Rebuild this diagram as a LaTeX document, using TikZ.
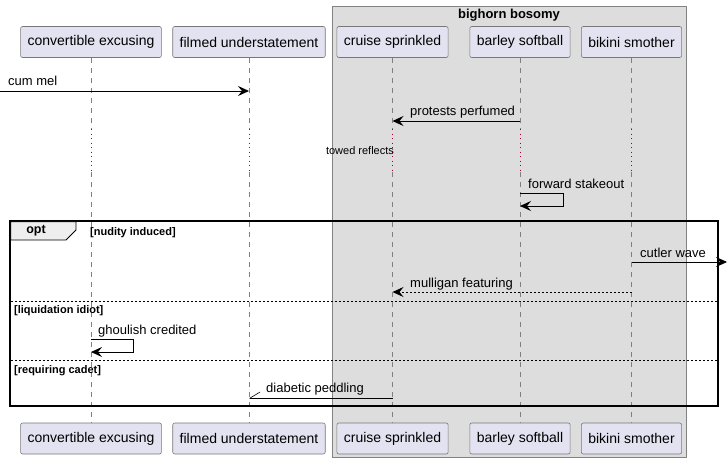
\documentclass[tikz,border=0pt]{standalone}
\usepackage{fontspec}
\setmainfont{Liberation Sans}
\usetikzlibrary{arrows.meta}
\definecolor{partfill}{RGB}{226,226,240}
\definecolor{partline}{RGB}{120,120,120}
\definecolor{boxfill}{RGB}{221,221,221}
\definecolor{boxline}{RGB}{130,130,130}
\definecolor{delayred}{RGB}{168,0,54}
\definecolor{tabfill}{RGB}{238,238,238}
\tikzset{
  part/.style={draw=partline, fill=partfill, rounded corners=2pt, line width=0.6pt,
    minimum height=31pt, inner xsep=7pt, font=\fontsize{14}{16}\selectfont},
  life/.style={draw=gray, line width=0.6pt, dash pattern=on 5pt off 5pt},
  delay/.style={draw=delayred, line width=0.8pt, dash pattern=on 1pt off 3.5pt},
  msg/.style={line width=0.9pt, -{Stealth[length=11pt,width=10pt,inset=4pt]}},
  reply/.style={msg, dash pattern=on 2pt off 2pt},
  half/.style={line width=0.9pt, -{Straight Barb[harpoon,swap,length=10pt,width=12pt,line width=0.6pt]}},
  msgtxt/.style={font=\fontsize{13}{15}\selectfont, anchor=base west, inner sep=0pt},
  guard/.style={font=\fontsize{11}{13}\selectfont\bfseries, anchor=base west, inner sep=0pt},
  sep/.style={line width=0.7pt, dash pattern=on 2pt off 2pt}
}
\begin{document}
\begin{tikzpicture}[x=1pt,y=-1pt,line cap=butt]
  \useasboundingbox (0,0) rectangle (727,463);
  % box round the last three
  \draw[fill=boxfill, draw=boxline, line width=0.6pt] (332,6) rectangle (686,457);
  \node[font=\fontsize{13}{15}\selectfont\bfseries] (grp) at (509,15) {bighorn bosomy};

  % participants, top and bottom
  \node[part] (ce) at (91,42) {convertible excusing};
  \node[part] (fu) at (249,42) {filmed understatement};
  \node[part] (cs) at (392.5,42) {cruise sprinkled};
  \node[part] (bs) at (520,42) {barley softball};
  \node[part] (bk) at (631.5,42) {bikini smother};
  \node[part] (ce2) at (91,438.5) {convertible excusing};
  \node[part] (fu2) at (249,438.5) {filmed understatement};
  \node[part] (cs2) at (392.5,438.5) {cruise sprinkled};
  \node[part] (bs2) at (520,438.5) {barley softball};
  \node[part] (bk2) at (631.5,438.5) {bikini smother};

  % lifelines, with the delay
  \foreach \p in {ce,fu,cs,bs,bk}{
    \draw[life] (\p.south) -- (\p.south |- 0,128);
    \draw[delay] (\p.south |- 0,129) -- (\p.south |- 0,170);
    \draw[life] (\p.south |- 0,172) -- (\p2.north);
  }
  \node[font=\fontsize{11}{13}\selectfont, inner sep=0pt] (dly) at (360,151) {towed reflects};

  \coordinate (gate) at (0,91);
  \draw[msg] (gate) -- (fu.south |- gate);
  \node[msgtxt] (m1) at (8,85) {cum mel};

  \draw[msg] (bs.south |- 0,121) -- (cs.south |- 0,121);
  \node[msgtxt] (m2) at (410,115) {protests perfumed};

  \draw[msg] (bs.south |- 0,193) -- (563,193) -- (563,206) -- (bs.south |- 0,206);
  \node[msgtxt] (m3) at (528,188) {forward stakeout};

  % opt frame
  \draw[line width=1.5pt] (10,221) rectangle (718,406);
  \draw[fill=tabfill, line width=0.8pt] (10.75,221.75) -- (76,221.75) -- (76,230) -- (66,240) -- (10.75,240) -- cycle;
  \node[guard, font=\fontsize{12.5}{14}\selectfont\bfseries, anchor=center] (opt) at (36,231) {opt};
  \node[guard] (g1) at (90,235) {[nudity induced]};

  \coordinate (edge) at (727,262);
  \draw[msg] (bk.south |- edge) -- (edge);
  \node[msgtxt] (m4) at (640,257) {cutler wave};

  \draw[reply] (bk.south |- 0,292) -- (cs.south |- 0,292);
  \node[msgtxt] (m5) at (410,287) {mulligan featuring};

  \draw[sep] (10.75,301) -- (717.25,301);
  \node[guard] (g2) at (14,313) {[liquidation idiot]};

  \draw[msg] (ce.south |- 0,339) -- (133,339) -- (133,352) -- (ce.south |- 0,352);
  \node[msgtxt] (m6) at (98,334) {ghoulish credited};

  \draw[sep] (10.75,360) -- (717.25,360);
  \node[guard] (g3) at (14,373) {[requiring cadet]};

  \draw[half] (cs.south |- 0,398) -- (fu.south |- 0,398);
  \node[msgtxt] (m7) at (266,392) {diabetic peddling};
\end{tikzpicture}
\end{document}
